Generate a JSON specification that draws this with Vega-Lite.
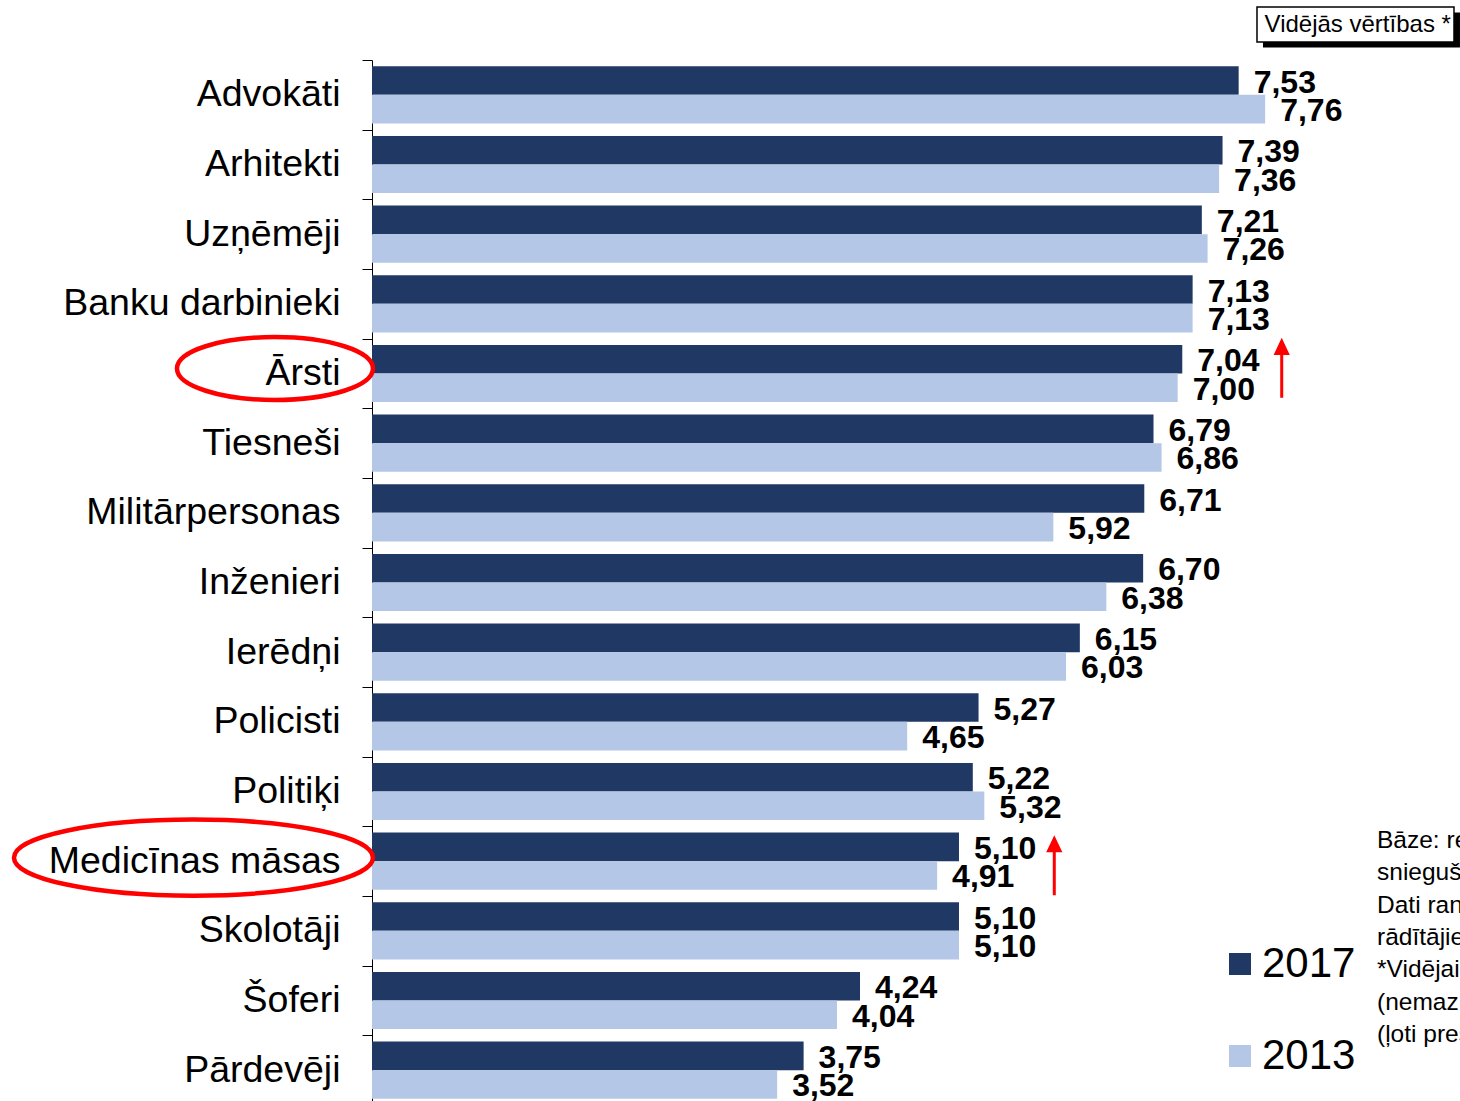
{
  "$schema": "https://vega.github.io/schema/vega-lite/v6.json",
  "autosize": {"type": "none"},
  "padding": {"left": 372, "top": 60, "right": 0, "bottom": 0},
  "width": 1088,
  "height": 1045,
  "config": {
    "font": "Liberation Sans",
    "view": {"stroke": null},
    "locale": {"number": {"decimal": ",", "thousands": " ", "grouping": [3], "currency": ["", " €"]}}
  },
  "datasets": {
    "main": [
      {"cat": "Advokāti", "year": "2017", "value": 7.53},
      {"cat": "Advokāti", "year": "2013", "value": 7.76},
      {"cat": "Arhitekti", "year": "2017", "value": 7.39},
      {"cat": "Arhitekti", "year": "2013", "value": 7.36},
      {"cat": "Uzņēmēji", "year": "2017", "value": 7.21},
      {"cat": "Uzņēmēji", "year": "2013", "value": 7.26},
      {"cat": "Banku darbinieki", "year": "2017", "value": 7.13},
      {"cat": "Banku darbinieki", "year": "2013", "value": 7.13},
      {"cat": "Ārsti", "year": "2017", "value": 7.04},
      {"cat": "Ārsti", "year": "2013", "value": 7.00},
      {"cat": "Tiesneši", "year": "2017", "value": 6.79},
      {"cat": "Tiesneši", "year": "2013", "value": 6.86},
      {"cat": "Militārpersonas", "year": "2017", "value": 6.71},
      {"cat": "Militārpersonas", "year": "2013", "value": 5.92},
      {"cat": "Inženieri", "year": "2017", "value": 6.70},
      {"cat": "Inženieri", "year": "2013", "value": 6.38},
      {"cat": "Ierēdņi", "year": "2017", "value": 6.15},
      {"cat": "Ierēdņi", "year": "2013", "value": 6.03},
      {"cat": "Policisti", "year": "2017", "value": 5.27},
      {"cat": "Policisti", "year": "2013", "value": 4.65},
      {"cat": "Politiķi", "year": "2017", "value": 5.22},
      {"cat": "Politiķi", "year": "2013", "value": 5.32},
      {"cat": "Medicīnas māsas", "year": "2017", "value": 5.10},
      {"cat": "Medicīnas māsas", "year": "2013", "value": 4.91},
      {"cat": "Skolotāji", "year": "2017", "value": 5.10},
      {"cat": "Skolotāji", "year": "2013", "value": 5.10},
      {"cat": "Šoferi", "year": "2017", "value": 4.24},
      {"cat": "Šoferi", "year": "2013", "value": 4.04},
      {"cat": "Pārdevēji", "year": "2017", "value": 3.75},
      {"cat": "Pārdevēji", "year": "2013", "value": 3.52}
    ]
  },
  "encoding": {
    "y": {
      "field": "cat", "type": "nominal",
      "sort": ["Advokāti", "Arhitekti", "Uzņēmēji", "Banku darbinieki", "Ārsti", "Tiesneši", "Militārpersonas", "Inženieri", "Ierēdņi", "Policisti", "Politiķi", "Medicīnas māsas", "Skolotāji", "Šoferi", "Pārdevēji"],
      "scale": {"domain": ["Advokāti", "Arhitekti", "Uzņēmēji", "Banku darbinieki", "Ārsti", "Tiesneši", "Militārpersonas", "Inženieri", "Ierēdņi", "Policisti", "Politiķi", "Medicīnas māsas", "Skolotāji", "Šoferi", "Pārdevēji"], "paddingInner": 0, "paddingOuter": 0},
      "axis": {"title": null, "labelFontSize": 37.5, "labelColor": "black", "labelPadding": 22, "tickSize": 10, "tickColor": "black", "domainColor": "black", "tickBand": "extent", "labelLimit": 400, "domainWidth": 1, "tickWidth": 1}
    }
  },
  "layer": [
    {
      "data": {"name": "main"},
      "mark": {"type": "bar"},
      "encoding": {
        "x": {"field": "value", "type": "quantitative", "scale": {"domain": [0, 9.453], "zero": true, "nice": false}, "axis": null},
        "yOffset": {"field": "year", "type": "nominal", "sort": ["2017", "2013"], "scale": {"domain": ["2017", "2013"], "paddingInner": 0, "paddingOuter": 0.22}},
        "color": {
          "field": "year", "type": "nominal",
          "scale": {"domain": ["2017", "2013"], "range": ["#203864", "#b4c7e7"]},
          "legend": {"orient": "none", "legendX": 847, "legendY": 883, "title": null, "symbolType": "square", "symbolSize": 484, "symbolStrokeWidth": 0, "symbolOpacity": 1, "labelFontSize": 42, "labelColor": "black", "labelOffset": 1, "rowPadding": 50, "padding": 0}
        }
      }
    },
    {
      "data": {"name": "main"},
      "mark": {"type": "text", "align": "left", "baseline": "middle", "dx": 15, "dy": 2, "fontSize": 32, "fontWeight": "bold", "color": "black"},
      "encoding": {
        "x": {"field": "value", "type": "quantitative"},
        "yOffset": {"field": "year", "type": "nominal", "sort": ["2017", "2013"]},
        "text": {"field": "value", "type": "quantitative", "format": ".2f"}
      }
    },
    {
      "data": {"values": [{"cat": "Advokāti", "value": 8.597}]},
      "mark": {"type": "point", "shape": "M -1 -0.178 L 1 -0.178 L 1 0.178 L -1 0.178 Z", "size": 38809, "filled": true, "fill": "black", "strokeWidth": 0, "opacity": 1, "yOffset": -64.8},
      "encoding": {"x": {"field": "value", "type": "quantitative"}}
    },
    {
      "data": {"values": [{"cat": "Advokāti", "value": 8.545}]},
      "mark": {"type": "point", "shape": "M -1 -0.178 L 1 -0.178 L 1 0.178 L -1 0.178 Z", "size": 38809, "filled": true, "fill": "white", "stroke": "black", "strokeWidth": 1.5, "opacity": 1, "yOffset": -70.3},
      "encoding": {"x": {"field": "value", "type": "quantitative"}}
    },
    {
      "data": {"values": [{"cat": "Advokāti", "value": 7.755, "label": "Vidējās vērtības *"}]},
      "mark": {"type": "text", "align": "left", "baseline": "alphabetic", "dy": -63, "fontSize": 24, "color": "black"},
      "encoding": {"x": {"field": "value", "type": "quantitative"}, "text": {"field": "label"}}
    },
    {
      "data": {"values": [{"cat": "Ārsti", "value": 7.904}]},
      "mark": {"type": "point", "shape": "M 0 -1 L 0.27 -0.43 L 0.05 -0.43 L 0.05 1 L -0.05 1 L -0.05 -0.43 L -0.27 -0.43 Z", "size": 3600, "filled": true, "color": "#ff0000", "strokeWidth": 0, "opacity": 1, "yOffset": -5.7},
      "encoding": {"x": {"field": "value", "type": "quantitative"}}
    },
    {
      "data": {"values": [{"cat": "Medicīnas māsas", "value": 5.928}]},
      "mark": {"type": "point", "shape": "M 0 -1 L 0.27 -0.43 L 0.05 -0.43 L 0.05 1 L -0.05 1 L -0.05 -0.43 L -0.27 -0.43 Z", "size": 3600, "filled": true, "color": "#ff0000", "strokeWidth": 0, "opacity": 1, "yOffset": 4},
      "encoding": {"x": {"field": "value", "type": "quantitative"}}
    },
    {
      "data": {"values": [{"cat": "Ārsti", "value": -0.843}]},
      "mark": {"type": "point", "shape": "M -1 0 A 1 0.321 0 1 0 1 0 A 1 0.321 0 1 0 -1 0 Z", "size": 38416, "filled": false, "stroke": "#ff0000", "strokeWidth": 4.5, "opacity": 1, "yOffset": -5},
      "encoding": {"x": {"field": "value", "type": "quantitative"}}
    },
    {
      "data": {"values": [{"cat": "Medicīnas māsas", "value": -1.551}]},
      "mark": {"type": "point", "shape": "M -1 0 A 1 0.212 0 1 0 1 0 A 1 0.212 0 1 0 -1 0 Z", "size": 128881, "filled": false, "stroke": "#ff0000", "strokeWidth": 4.5, "opacity": 1, "yOffset": -3.5},
      "encoding": {"x": {"field": "value", "type": "quantitative"}}
    },
    {
      "data": {"values": [{"cat": "Medicīnas māsas", "value": 8.732, "label": "Bāze: respondenti, kuri\nsnieguši atbildi\nDati ranžēti pēc 2017. gada\nrādītājiem\n*Vidējais vērtējums skalā no 1\n(nemaz nav prestiža) līdz 10\n(ļoti prestiža)"}]},
      "mark": {"type": "text", "align": "left", "baseline": "alphabetic", "dy": -13, "fontSize": 24.5, "lineHeight": 32.3, "lineBreak": "\n", "color": "black"},
      "encoding": {"x": {"field": "value", "type": "quantitative"}, "text": {"field": "label"}}
    }
  ]
}
